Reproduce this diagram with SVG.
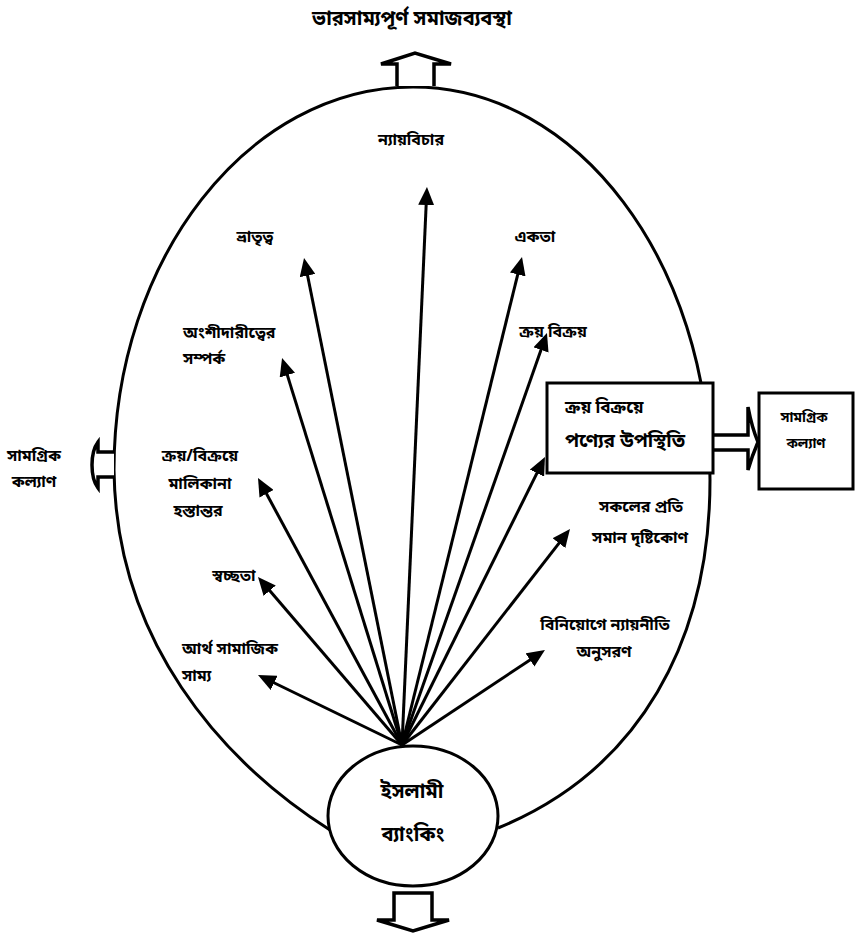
<svg xmlns="http://www.w3.org/2000/svg" width="864" height="933" viewBox="0 0 864 933">
  <style>
    .t { font-family: "Noto Sans Bengali", "Noto Sans", "Lohit Bengali", sans-serif; font-weight: bold; font-size: 16px; fill: #000; }
    .c { text-anchor: middle; }
    .ln { stroke: #000; stroke-width: 3; fill: none; marker-end: url(#ah); }
    .shape { stroke: #000; stroke-width: 3; fill: #fff; }
    .blk { stroke: #000; stroke-width: 3.5; fill: #fff; stroke-linejoin: miter; }
  </style>
  <defs>
    <marker id="ah" viewBox="0 0 18 16" refX="10" refY="8" markerWidth="18" markerHeight="16" markerUnits="userSpaceOnUse" orient="auto">
      <path d="M0,0 L18,8 L0,16 Z" fill="#000"/>
    </marker>
  </defs>

  <rect width="864" height="933" fill="#fff"/>

  <!-- title -->
  <text class="t c" x="412" y="25" style="font-size:20px">ভারসাম্যপূর্ণ সমাজব্যবস্থা</text>

  <!-- outer egg-shaped boundary -->
  <g id="boundary">
    <path d="M330,830 C220,760 116,640 114,470 C114,259 248,87 413,87 C578,87 710,263 710,480 C710,640 640,770 498,828" stroke="#000" stroke-width="3" fill="none"/>
  </g>

  <!-- block arrows -->
  <g id="arrow-top">
    <path class="blk" d="M397,86 V64 H381 L415,53 L451,64 H434 V86"/>
  </g>
  <g id="arrow-left">
    <path class="blk" d="M114,452 H98 V442 Q92,450 92,465 Q92,480 98,488 V477 H114"/>
  </g>
  <g id="arrow-bottom">
    <path class="blk" d="M394,893 H432 V920 H449 L413,931 L377,920 H394 Z"/>
  </g>

  <!-- connectors -->
  <g id="connectors">
    <line class="ln" x1="402" y1="745" x2="426.6" y2="195"/>
    <line class="ln" x1="402" y1="745" x2="305.6" y2="265.8"/>
    <line class="ln" x1="402" y1="745" x2="520.1" y2="264.8"/>
    <line class="ln" x1="402" y1="745" x2="284.4" y2="365.6"/>
    <line class="ln" x1="402" y1="745" x2="544.3" y2="340.5"/>
    <line class="ln" x1="402" y1="745" x2="541.4" y2="464.2"/>
    <line class="ln" x1="402" y1="745" x2="261.8" y2="485"/>
    <line class="ln" x1="402" y1="745" x2="263.2" y2="583.1"/>
    <line class="ln" x1="402" y1="745" x2="265.2" y2="678.5"/>
    <line class="ln" x1="402" y1="745" x2="565.1" y2="535.3"/>
    <line class="ln" x1="402" y1="745" x2="538.3" y2="654.4"/>
    <!-- box to box block arrow -->
    <path class="blk" d="M713,435 H748 V407 Q752,428 758,442 Q752,456 748,470 V450 H713"/>
  </g>

  <!-- nodes -->
  <g id="node-islamic-banking">
    <ellipse class="shape" cx="413" cy="816" rx="85" ry="70"/>
    <text class="t c" x="412" y="798" style="font-size:20px">ইসলামী</text>
    <text class="t c" x="413" y="841" style="font-size:20px">ব্যাংকিং</text>
  </g>

  <g id="node-justice">
    <text class="t c" x="411" y="145">ন্যায়বিচার</text>
  </g>
  <g id="node-brotherhood">
    <text class="t c" x="255" y="242">ভ্রাতৃত্ব</text>
  </g>
  <g id="node-unity">
    <text class="t c" x="535" y="242">একতা</text>
  </g>
  <g id="node-partnership">
    <text class="t" x="183" y="338">অংশীদারীত্বের</text>
    <text class="t" x="183" y="364">সম্পর্ক</text>
  </g>
  <g id="node-trade">
    <text class="t c" x="553" y="337">ক্রয় বিক্রয়</text>
  </g>
  <g id="node-goods-presence">
    <rect class="shape" x="547" y="383" width="166" height="90"/>
    <text class="t" x="565" y="413" style="font-size:17px">ক্রয় বিক্রয়ে</text>
    <text class="t" x="565" y="447" style="font-size:19px">পণ্যের উপস্থিতি</text>
  </g>
  <g id="node-welfare-right">
    <rect class="shape" x="759" y="393" width="94" height="96"/>
    <text class="t c" x="804" y="422" style="font-size:14px">সামগ্রিক</text>
    <text class="t c" x="806" y="448" style="font-size:14px">কল্যাণ</text>
  </g>
  <g id="node-welfare-left">
    <text class="t c" x="34" y="461">সামগ্রিক</text>
    <text class="t c" x="34" y="487">কল্যাণ</text>
  </g>
  <g id="node-ownership">
    <text class="t c" x="200" y="461">ক্রয়/বিক্রয়ে</text>
    <text class="t c" x="200" y="489">মালিকানা</text>
    <text class="t c" x="198" y="516">হস্তান্তর</text>
  </g>
  <g id="node-transparency">
    <text class="t c" x="234" y="581">স্বচ্ছতা</text>
  </g>
  <g id="node-socioeconomic">
    <text class="t" x="182" y="654">আর্থ সামাজিক</text>
    <text class="t" x="182" y="681">সাম্য</text>
  </g>
  <g id="node-equal-view">
    <text class="t c" x="641" y="512">সকলের প্রতি</text>
    <text class="t c" x="640" y="543">সমান দৃষ্টিকোণ</text>
  </g>
  <g id="node-fair-investment">
    <text class="t c" x="605" y="630">বিনিয়োগে ন্যায়নীতি</text>
    <text class="t c" x="604" y="657">অনুসরণ</text>
  </g>
</svg>
